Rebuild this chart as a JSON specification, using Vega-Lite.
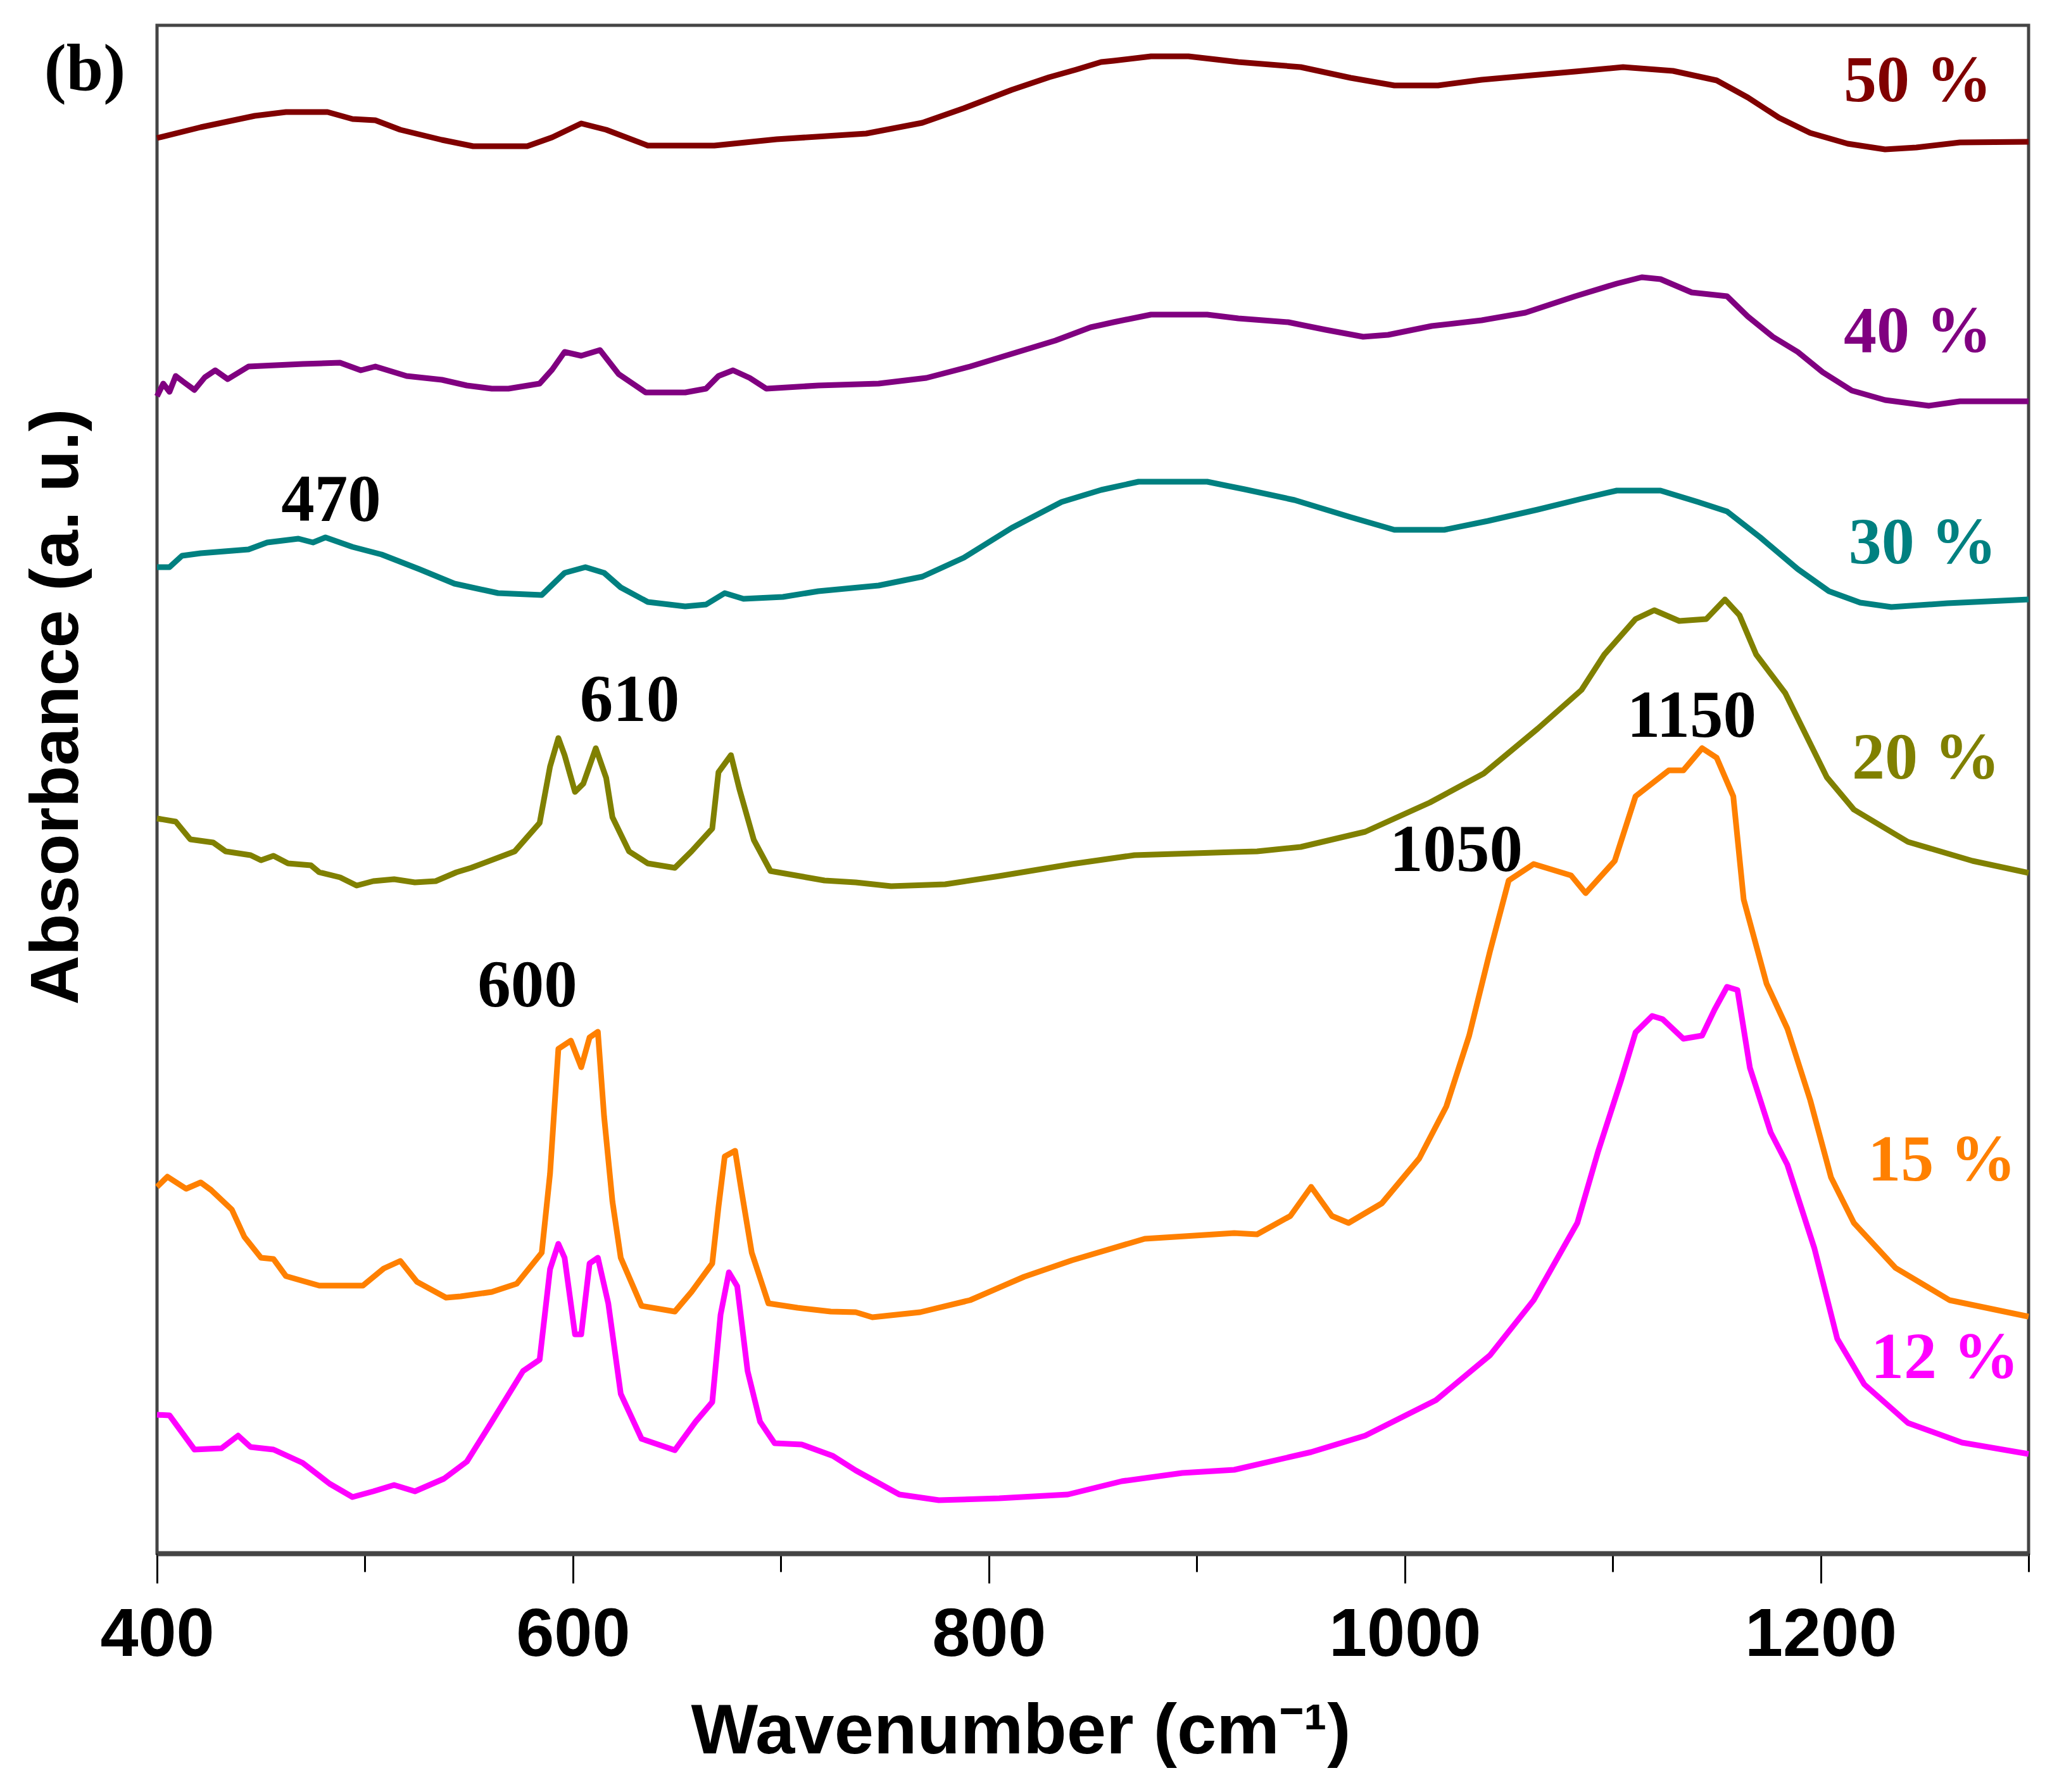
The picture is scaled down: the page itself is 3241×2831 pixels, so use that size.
{
  "$schema": "https://vega.github.io/schema/vega-lite/v6.json",
  "width": 2956,
  "height": 2414,
  "autosize": "none",
  "padding": {"left": 248, "top": 40, "right": 37, "bottom": 377},
  "background": "white",
  "config": {"view": {"stroke": "#444444", "strokeWidth": 5}},
  "datasets": {
    "spectra": [
      {"c":"50 %","w":400,"a":2236},{"c":"50 %","w":421,"a":2253},{"c":"50 %","w":447,"a":2271},{"c":"50 %","w":462,"a":2277},{"c":"50 %","w":482,"a":2277},{"c":"50 %","w":494,"a":2266},{"c":"50 %","w":505,"a":2264},{"c":"50 %","w":517,"a":2249},{"c":"50 %","w":537,"a":2233},{"c":"50 %","w":552,"a":2223},{"c":"50 %","w":578,"a":2223},{"c":"50 %","w":590,"a":2237},{"c":"50 %","w":604,"a":2259},{"c":"50 %","w":616,"a":2249},{"c":"50 %","w":636,"a":2224},{"c":"50 %","w":668,"a":2224},{"c":"50 %","w":698,"a":2234},{"c":"50 %","w":741,"a":2243},{"c":"50 %","w":768,"a":2260},{"c":"50 %","w":788,"a":2283},{"c":"50 %","w":811,"a":2312},{"c":"50 %","w":829,"a":2332},{"c":"50 %","w":842,"a":2344},{"c":"50 %","w":854,"a":2356},{"c":"50 %","w":860,"a":2358},{"c":"50 %","w":878,"a":2365},{"c":"50 %","w":896,"a":2365},{"c":"50 %","w":920,"a":2356},{"c":"50 %","w":950,"a":2348},{"c":"50 %","w":974,"a":2331},{"c":"50 %","w":995,"a":2319},{"c":"50 %","w":1016,"a":2319},{"c":"50 %","w":1037,"a":2328},{"c":"50 %","w":1061,"a":2335},{"c":"50 %","w":1082,"a":2341},{"c":"50 %","w":1105,"a":2348},{"c":"50 %","w":1129,"a":2342},{"c":"50 %","w":1150,"a":2327},{"c":"50 %","w":1165,"a":2300},{"c":"50 %","w":1180,"a":2268},{"c":"50 %","w":1195,"a":2244},{"c":"50 %","w":1213,"a":2227},{"c":"50 %","w":1231,"a":2218},{"c":"50 %","w":1246,"a":2221},{"c":"50 %","w":1267,"a":2229},{"c":"50 %","w":1300,"a":2230},
      {"c":"40 %","w":400,"a":1828},{"c":"40 %","w":403,"a":1848},{"c":"40 %","w":406,"a":1835},{"c":"40 %","w":409,"a":1860},{"c":"40 %","w":413,"a":1850},{"c":"40 %","w":418,"a":1838},{"c":"40 %","w":423,"a":1858},{"c":"40 %","w":428,"a":1869},{"c":"40 %","w":434,"a":1855},{"c":"40 %","w":444,"a":1875},{"c":"40 %","w":470,"a":1879},{"c":"40 %","w":488,"a":1881},{"c":"40 %","w":498,"a":1869},{"c":"40 %","w":505,"a":1875},{"c":"40 %","w":520,"a":1860},{"c":"40 %","w":537,"a":1854},{"c":"40 %","w":549,"a":1845},{"c":"40 %","w":561,"a":1840},{"c":"40 %","w":569,"a":1840},{"c":"40 %","w":584,"a":1848},{"c":"40 %","w":590,"a":1870},{"c":"40 %","w":596,"a":1898},{"c":"40 %","w":604,"a":1892},{"c":"40 %","w":613,"a":1901},{"c":"40 %","w":622,"a":1863},{"c":"40 %","w":635,"a":1834},{"c":"40 %","w":654,"a":1834},{"c":"40 %","w":664,"a":1840},{"c":"40 %","w":670,"a":1860},{"c":"40 %","w":677,"a":1869},{"c":"40 %","w":685,"a":1857},{"c":"40 %","w":693,"a":1840},{"c":"40 %","w":718,"a":1845},{"c":"40 %","w":747,"a":1848},{"c":"40 %","w":770,"a":1857},{"c":"40 %","w":791,"a":1875},{"c":"40 %","w":811,"a":1895},{"c":"40 %","w":832,"a":1916},{"c":"40 %","w":849,"a":1937},{"c":"40 %","w":860,"a":1945},{"c":"40 %","w":878,"a":1957},{"c":"40 %","w":905,"a":1957},{"c":"40 %","w":920,"a":1951},{"c":"40 %","w":944,"a":1945},{"c":"40 %","w":962,"a":1933},{"c":"40 %","w":980,"a":1922},{"c":"40 %","w":992,"a":1925},{"c":"40 %","w":1013,"a":1939},{"c":"40 %","w":1037,"a":1948},{"c":"40 %","w":1058,"a":1960},{"c":"40 %","w":1082,"a":1986},{"c":"40 %","w":1102,"a":2006},{"c":"40 %","w":1114,"a":2016},{"c":"40 %","w":1123,"a":2013},{"c":"40 %","w":1138,"a":1992},{"c":"40 %","w":1155,"a":1986},{"c":"40 %","w":1165,"a":1954},{"c":"40 %","w":1177,"a":1922},{"c":"40 %","w":1189,"a":1898},{"c":"40 %","w":1201,"a":1866},{"c":"40 %","w":1215,"a":1837},{"c":"40 %","w":1231,"a":1822},{"c":"40 %","w":1252,"a":1813},{"c":"40 %","w":1267,"a":1820},{"c":"40 %","w":1300,"a":1820},
      {"c":"30 %","w":400,"a":1558},{"c":"30 %","w":406,"a":1558},{"c":"30 %","w":412,"a":1576},{"c":"30 %","w":421,"a":1580},{"c":"30 %","w":444,"a":1586},{"c":"30 %","w":453,"a":1597},{"c":"30 %","w":468,"a":1603},{"c":"30 %","w":475,"a":1597},{"c":"30 %","w":481,"a":1605},{"c":"30 %","w":494,"a":1590},{"c":"30 %","w":508,"a":1578},{"c":"30 %","w":526,"a":1555},{"c":"30 %","w":543,"a":1532},{"c":"30 %","w":564,"a":1517},{"c":"30 %","w":585,"a":1514},{"c":"30 %","w":596,"a":1549},{"c":"30 %","w":606,"a":1558},{"c":"30 %","w":615,"a":1549},{"c":"30 %","w":623,"a":1526},{"c":"30 %","w":636,"a":1503},{"c":"30 %","w":654,"a":1496},{"c":"30 %","w":664,"a":1499},{"c":"30 %","w":673,"a":1517},{"c":"30 %","w":682,"a":1508},{"c":"30 %","w":701,"a":1511},{"c":"30 %","w":718,"a":1520},{"c":"30 %","w":747,"a":1529},{"c":"30 %","w":768,"a":1543},{"c":"30 %","w":788,"a":1573},{"c":"30 %","w":811,"a":1620},{"c":"30 %","w":835,"a":1661},{"c":"30 %","w":854,"a":1680},{"c":"30 %","w":872,"a":1693},{"c":"30 %","w":905,"a":1693},{"c":"30 %","w":923,"a":1681},{"c":"30 %","w":947,"a":1664},{"c":"30 %","w":974,"a":1637},{"c":"30 %","w":995,"a":1617},{"c":"30 %","w":1019,"a":1617},{"c":"30 %","w":1040,"a":1631},{"c":"30 %","w":1064,"a":1649},{"c":"30 %","w":1085,"a":1666},{"c":"30 %","w":1102,"a":1679},{"c":"30 %","w":1123,"a":1679},{"c":"30 %","w":1141,"a":1661},{"c":"30 %","w":1155,"a":1646},{"c":"30 %","w":1171,"a":1605},{"c":"30 %","w":1189,"a":1555},{"c":"30 %","w":1204,"a":1520},{"c":"30 %","w":1219,"a":1502},{"c":"30 %","w":1234,"a":1495},{"c":"30 %","w":1261,"a":1501},{"c":"30 %","w":1300,"a":1507},
      {"c":"20 %","w":400,"a":1161},{"c":"20 %","w":409,"a":1156},{"c":"20 %","w":416,"a":1128},{"c":"20 %","w":427,"a":1123},{"c":"20 %","w":433,"a":1109},{"c":"20 %","w":445,"a":1103},{"c":"20 %","w":450,"a":1095},{"c":"20 %","w":456,"a":1102},{"c":"20 %","w":463,"a":1090},{"c":"20 %","w":474,"a":1087},{"c":"20 %","w":478,"a":1076},{"c":"20 %","w":488,"a":1068},{"c":"20 %","w":496,"a":1055},{"c":"20 %","w":504,"a":1062},{"c":"20 %","w":514,"a":1065},{"c":"20 %","w":524,"a":1060},{"c":"20 %","w":534,"a":1062},{"c":"20 %","w":544,"a":1076},{"c":"20 %","w":551,"a":1083},{"c":"20 %","w":572,"a":1109},{"c":"20 %","w":584,"a":1154},{"c":"20 %","w":589,"a":1243},{"c":"20 %","w":593,"a":1288},{"c":"20 %","w":596,"a":1261},{"c":"20 %","w":601,"a":1203},{"c":"20 %","w":605,"a":1216},{"c":"20 %","w":611,"a":1272},{"c":"20 %","w":616,"a":1225},{"c":"20 %","w":619,"a":1163},{"c":"20 %","w":627,"a":1109},{"c":"20 %","w":636,"a":1090},{"c":"20 %","w":649,"a":1083},{"c":"20 %","w":657,"a":1109},{"c":"20 %","w":667,"a":1145},{"c":"20 %","w":670,"a":1234},{"c":"20 %","w":676,"a":1261},{"c":"20 %","w":680,"a":1208},{"c":"20 %","w":687,"a":1127},{"c":"20 %","w":695,"a":1078},{"c":"20 %","w":721,"a":1063},{"c":"20 %","w":736,"a":1060},{"c":"20 %","w":753,"a":1054},{"c":"20 %","w":779,"a":1057},{"c":"20 %","w":805,"a":1070},{"c":"20 %","w":840,"a":1089},{"c":"20 %","w":870,"a":1103},{"c":"20 %","w":899,"a":1106},{"c":"20 %","w":918,"a":1108},{"c":"20 %","w":929,"a":1109},{"c":"20 %","w":950,"a":1116},{"c":"20 %","w":981,"a":1140},{"c":"20 %","w":1012,"a":1186},{"c":"20 %","w":1038,"a":1232},{"c":"20 %","w":1064,"a":1303},{"c":"20 %","w":1085,"a":1364},{"c":"20 %","w":1096,"a":1420},{"c":"20 %","w":1111,"a":1476},{"c":"20 %","w":1120,"a":1490},{"c":"20 %","w":1132,"a":1473},{"c":"20 %","w":1145,"a":1476},{"c":"20 %","w":1154,"a":1507},{"c":"20 %","w":1161,"a":1482},{"c":"20 %","w":1169,"a":1420},{"c":"20 %","w":1183,"a":1359},{"c":"20 %","w":1203,"a":1226},{"c":"20 %","w":1216,"a":1175},{"c":"20 %","w":1242,"a":1124},{"c":"20 %","w":1273,"a":1094},{"c":"20 %","w":1300,"a":1075},
      {"c":"15 %","w":400,"a":579},{"c":"15 %","w":405,"a":595},{"c":"15 %","w":414,"a":576},{"c":"15 %","w":421,"a":586},{"c":"15 %","w":426,"a":574},{"c":"15 %","w":436,"a":543},{"c":"15 %","w":442,"a":500},{"c":"15 %","w":450,"a":467},{"c":"15 %","w":456,"a":465},{"c":"15 %","w":462,"a":438},{"c":"15 %","w":478,"a":423},{"c":"15 %","w":499,"a":423},{"c":"15 %","w":509,"a":450},{"c":"15 %","w":517,"a":462},{"c":"15 %","w":525,"a":429},{"c":"15 %","w":539,"a":404},{"c":"15 %","w":546,"a":406},{"c":"15 %","w":561,"a":413},{"c":"15 %","w":573,"a":426},{"c":"15 %","w":585,"a":475},{"c":"15 %","w":589,"a":600},{"c":"15 %","w":593,"a":797},{"c":"15 %","w":599,"a":810},{"c":"15 %","w":604,"a":768},{"c":"15 %","w":608,"a":815},{"c":"15 %","w":612,"a":824},{"c":"15 %","w":615,"a":690},{"c":"15 %","w":619,"a":556},{"c":"15 %","w":623,"a":467},{"c":"15 %","w":633,"a":391},{"c":"15 %","w":649,"a":382},{"c":"15 %","w":657,"a":413},{"c":"15 %","w":667,"a":458},{"c":"15 %","w":670,"a":547},{"c":"15 %","w":673,"a":627},{"c":"15 %","w":678,"a":636},{"c":"15 %","w":681,"a":574},{"c":"15 %","w":686,"a":475},{"c":"15 %","w":694,"a":395},{"c":"15 %","w":708,"a":388},{"c":"15 %","w":724,"a":382},{"c":"15 %","w":736,"a":381},{"c":"15 %","w":744,"a":373},{"c":"15 %","w":767,"a":381},{"c":"15 %","w":791,"a":400},{"c":"15 %","w":817,"a":437},{"c":"15 %","w":840,"a":463},{"c":"15 %","w":875,"a":497},{"c":"15 %","w":899,"a":502},{"c":"15 %","w":918,"a":506},{"c":"15 %","w":929,"a":504},{"c":"15 %","w":945,"a":533},{"c":"15 %","w":955,"a":579},{"c":"15 %","w":965,"a":533},{"c":"15 %","w":973,"a":522},{"c":"15 %","w":989,"a":553},{"c":"15 %","w":1007,"a":624},{"c":"15 %","w":1020,"a":706},{"c":"15 %","w":1031,"a":818},{"c":"15 %","w":1041,"a":951},{"c":"15 %","w":1050,"a":1063},{"c":"15 %","w":1062,"a":1089},{"c":"15 %","w":1080,"a":1071},{"c":"15 %","w":1087,"a":1043},{"c":"15 %","w":1101,"a":1094},{"c":"15 %","w":1111,"a":1196},{"c":"15 %","w":1127,"a":1237},{"c":"15 %","w":1134,"a":1237},{"c":"15 %","w":1143,"a":1272},{"c":"15 %","w":1150,"a":1257},{"c":"15 %","w":1158,"a":1196},{"c":"15 %","w":1163,"a":1033},{"c":"15 %","w":1174,"a":900},{"c":"15 %","w":1184,"a":829},{"c":"15 %","w":1195,"a":716},{"c":"15 %","w":1205,"a":594},{"c":"15 %","w":1216,"a":522},{"c":"15 %","w":1236,"a":451},{"c":"15 %","w":1262,"a":400},{"c":"15 %","w":1300,"a":374},
      {"c":"12 %","w":400,"a":219},{"c":"12 %","w":406,"a":218},{"c":"12 %","w":418,"a":164},{"c":"12 %","w":431,"a":166},{"c":"12 %","w":439,"a":186},{"c":"12 %","w":445,"a":168},{"c":"12 %","w":456,"a":164},{"c":"12 %","w":470,"a":143},{"c":"12 %","w":483,"a":110},{"c":"12 %","w":494,"a":89},{"c":"12 %","w":504,"a":98},{"c":"12 %","w":514,"a":108},{"c":"12 %","w":524,"a":98},{"c":"12 %","w":538,"a":118},{"c":"12 %","w":549,"a":145},{"c":"12 %","w":561,"a":208},{"c":"12 %","w":576,"a":288},{"c":"12 %","w":584,"a":306},{"c":"12 %","w":589,"a":449},{"c":"12 %","w":593,"a":489},{"c":"12 %","w":596,"a":467},{"c":"12 %","w":601,"a":346},{"c":"12 %","w":604,"a":346},{"c":"12 %","w":608,"a":458},{"c":"12 %","w":612,"a":467},{"c":"12 %","w":617,"a":395},{"c":"12 %","w":623,"a":252},{"c":"12 %","w":633,"a":181},{"c":"12 %","w":649,"a":163},{"c":"12 %","w":659,"a":208},{"c":"12 %","w":667,"a":239},{"c":"12 %","w":671,"a":377},{"c":"12 %","w":675,"a":444},{"c":"12 %","w":679,"a":422},{"c":"12 %","w":684,"a":288},{"c":"12 %","w":690,"a":208},{"c":"12 %","w":697,"a":174},{"c":"12 %","w":710,"a":172},{"c":"12 %","w":725,"a":154},{"c":"12 %","w":736,"a":131},{"c":"12 %","w":757,"a":93},{"c":"12 %","w":776,"a":84},{"c":"12 %","w":805,"a":87},{"c":"12 %","w":838,"a":93},{"c":"12 %","w":864,"a":114},{"c":"12 %","w":893,"a":127},{"c":"12 %","w":918,"a":132},{"c":"12 %","w":955,"a":160},{"c":"12 %","w":981,"a":186},{"c":"12 %","w":1015,"a":242},{"c":"12 %","w":1041,"a":313},{"c":"12 %","w":1062,"a":400},{"c":"12 %","w":1083,"a":522},{"c":"12 %","w":1093,"a":635},{"c":"12 %","w":1104,"a":747},{"c":"12 %","w":1111,"a":823},{"c":"12 %","w":1119,"a":849},{"c":"12 %","w":1124,"a":844},{"c":"12 %","w":1134,"a":813},{"c":"12 %","w":1143,"a":818},{"c":"12 %","w":1149,"a":859},{"c":"12 %","w":1155,"a":895},{"c":"12 %","w":1160,"a":890},{"c":"12 %","w":1166,"a":767},{"c":"12 %","w":1176,"a":665},{"c":"12 %","w":1184,"a":614},{"c":"12 %","w":1197,"a":482},{"c":"12 %","w":1208,"a":339},{"c":"12 %","w":1221,"a":267},{"c":"12 %","w":1242,"a":206},{"c":"12 %","w":1268,"a":175},{"c":"12 %","w":1300,"a":157}
    ],
    "series": [
      {"c":"50 %","w":1246.7,"a":2294},
      {"c":"40 %","w":1246.7,"a":1898},
      {"c":"30 %","w":1249.1,"a":1564},
      {"c":"20 %","w":1250.7,"a":1224},
      {"c":"15 %","w":1258.4,"a":589},
      {"c":"12 %","w":1259.8,"a":277}
    ],
    "peaks": [
      {"t":"(b)","w":365.3,"a":2311},
      {"t":"470","w":483.7,"a":1631},
      {"t":"610","w":627.3,"a":1315},
      {"t":"600","w":578.1,"a":864},
      {"t":"1050","w":1024.8,"a":1078},
      {"t":"1150","w":1138,"a":1290}
    ]
  },
  "layer": [
    {
      "data": {"name": "spectra"},
      "mark": {"type": "line", "strokeWidth": 9, "strokeJoin": "round"},
      "encoding": {
        "x": {
          "field": "w", "type": "quantitative", "title": "Wavenumber (cm⁻¹)",
          "scale": {"domain": [400, 1300], "nice": false, "zero": false},
          "axis": {
            "values": [400, 500, 600, 700, 800, 900, 1000, 1100, 1200, 1300],
            "format": "d",
            "labelExpr": "datum.value % 200 === 0 ? datum.label : ''",
            "tickSize": {"condition": {"test": "datum.value % 200 === 0", "value": 47}, "value": 29},
            "tickWidth": 3, "tickColor": "black",
            "domainColor": "#444444", "domainWidth": 8,
            "grid": false,
            "labelFont": "Liberation Sans", "labelFontSize": 108, "labelFontWeight": "bold", "labelColor": "black",
            "labelBaseline": "alphabetic", "labelPadding": 114, "labelFlush": false, "labelOverlap": false, "labelLimit": 0,
            "titleFont": "Liberation Sans", "titleFontSize": 112, "titleFontWeight": "bold", "titleColor": "black",
            "titleX": 1364, "titleY": 315, "titleAlign": "center", "titleBaseline": "alphabetic", "titleLimit": 0
          }
        },
        "y": {
          "field": "a", "type": "quantitative", "title": "Absorbance (a. u.)",
          "scale": {"domain": [0, 2414], "nice": false, "zero": false},
          "axis": {
            "labels": false, "ticks": false, "domain": false, "grid": false,
            "titleFont": "Liberation Sans", "titleFontSize": 108, "titleFontWeight": "bold", "titleColor": "black",
            "titleAngle": 270, "titleAlign": "center", "titleBaseline": "alphabetic",
            "titleX": -126, "titleY": 1076, "titleLimit": 0
          }
        },
        "color": {
          "field": "c", "type": "nominal", "legend": null,
          "scale": {
            "domain": ["50 %", "40 %", "30 %", "20 %", "15 %", "12 %"],
            "range": ["#800000", "#800080", "#008080", "#808000", "#FF8000", "#FF00FF"]
          }
        }
      }
    },
    {
      "data": {"name": "series"},
      "mark": {"type": "text", "font": "Liberation Serif", "fontSize": 104, "fontWeight": "bold", "align": "center", "baseline": "alphabetic"},
      "encoding": {
        "x": {"field": "w", "type": "quantitative", "title": "Wavenumber (cm⁻¹)"},
        "y": {"field": "a", "type": "quantitative", "title": "Absorbance (a. u.)"},
        "text": {"field": "c"},
        "color": {"field": "c", "type": "nominal", "legend": null}
      }
    },
    {
      "data": {"name": "peaks"},
      "mark": {"type": "text", "font": "Liberation Serif", "fontSize": 105, "fontWeight": "bold", "align": "center", "baseline": "alphabetic", "color": "black"},
      "encoding": {
        "x": {"field": "w", "type": "quantitative", "title": "Wavenumber (cm⁻¹)"},
        "y": {"field": "a", "type": "quantitative", "title": "Absorbance (a. u.)"},
        "text": {"field": "t"}
      }
    }
  ]
}
